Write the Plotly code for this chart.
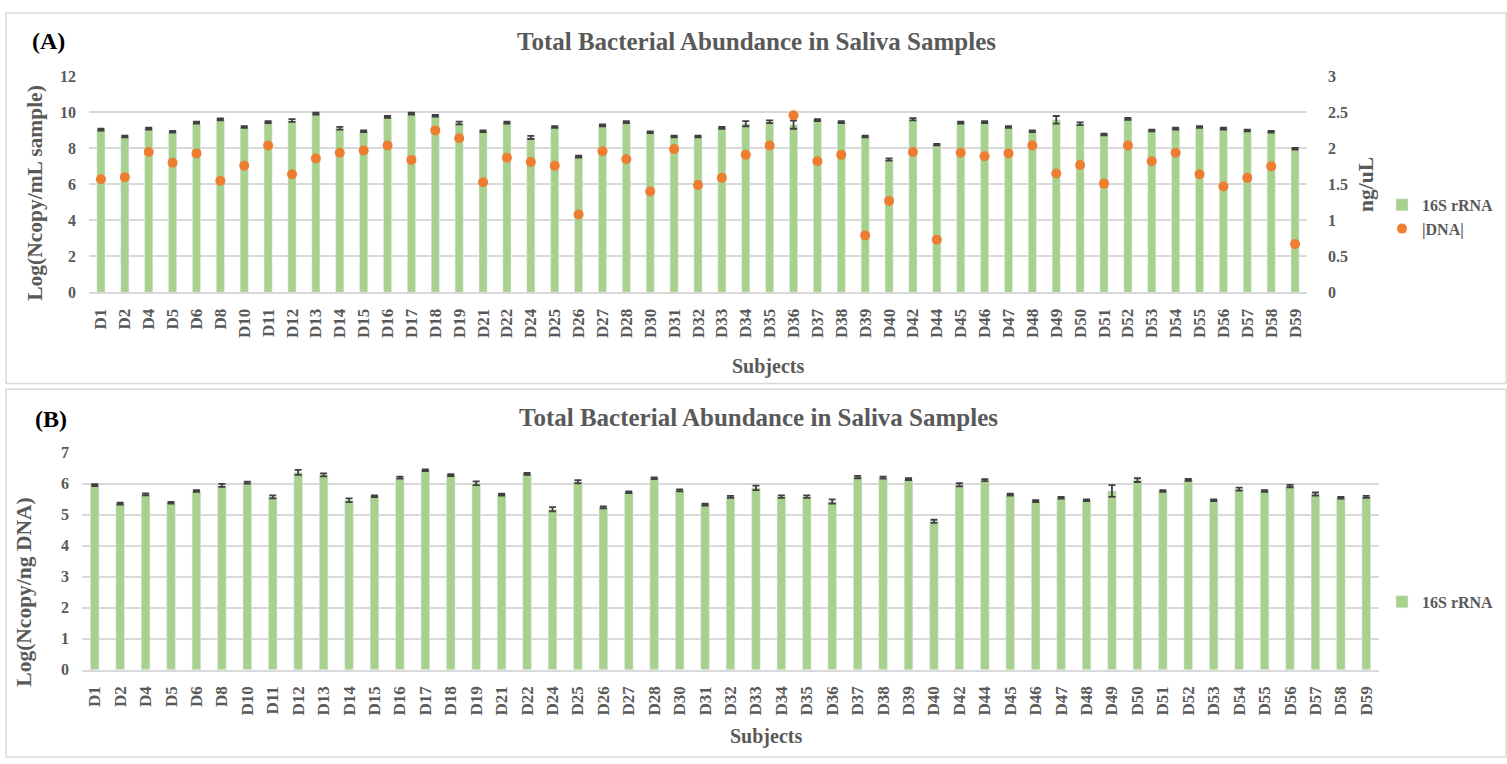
import plotly.graph_objects as go

# Subjects shown in both panels
subjects = ["D1", "D2", "D4", "D5", "D6", "D8", "D10", "D11", "D12", "D13",
            "D14", "D15", "D16", "D17", "D18", "D19", "D21", "D22", "D24", "D25",
            "D26", "D27", "D28", "D30", "D31", "D32", "D33", "D34", "D35", "D36",
            "D37", "D38", "D39", "D40", "D42", "D44", "D45", "D46", "D47", "D48",
            "D49", "D50", "D51", "D52", "D53", "D54", "D55", "D56", "D57", "D58", "D59"]

# (A) 16S rRNA, Log(Ncopy/mL sample), with standard deviation
rrna_per_ml = [9.04, 8.66, 9.10, 8.92, 9.43, 9.61, 9.19, 9.46, 9.55, 9.93,
               9.12, 8.95, 9.75, 9.93, 9.81, 9.41, 8.95, 9.43, 8.61, 9.19,
               7.54, 9.28, 9.46, 8.90, 8.66, 8.66, 9.14, 9.37, 9.48, 9.32,
               9.57, 9.46, 8.66, 7.38, 9.62, 8.21, 9.43, 9.46, 9.19, 8.95,
               9.59, 9.37, 8.77, 9.64, 8.99, 9.10, 9.19, 9.10, 8.99, 8.92, 7.98]
rrna_per_ml_sd = [0.05, 0.05, 0.05, 0.05, 0.05, 0.05, 0.05, 0.05, 0.08, 0.05,
                  0.08, 0.05, 0.05, 0.05, 0.05, 0.08, 0.05, 0.05, 0.09, 0.05,
                  0.05, 0.05, 0.05, 0.05, 0.05, 0.05, 0.05, 0.14, 0.08, 0.23,
                  0.05, 0.05, 0.05, 0.06, 0.06, 0.04, 0.05, 0.05, 0.05, 0.05,
                  0.21, 0.08, 0.05, 0.05, 0.05, 0.05, 0.05, 0.05, 0.05, 0.05, 0.05]

# (A) DNA concentration, ng/uL
dna_conc = [1.57, 1.60, 1.95, 1.80, 1.93, 1.55, 1.76, 2.04, 1.64, 1.86,
            1.94, 1.97, 2.04, 1.84, 2.25, 2.14, 1.53, 1.87, 1.81, 1.76,
            1.08, 1.96, 1.85, 1.40, 1.99, 1.49, 1.59, 1.91, 2.04, 2.46,
            1.82, 1.91, 0.79, 1.27, 1.95, 0.73, 1.94, 1.89, 1.93, 2.04,
            1.65, 1.77, 1.51, 2.04, 1.82, 1.94, 1.64, 1.47, 1.59, 1.75, 0.67]

# (B) 16S rRNA, Log(Ncopy/ng DNA), with standard deviation
rrna_per_ng = [5.96, 5.36, 5.66, 5.39, 5.77, 5.95, 6.04, 5.58, 6.37, 6.29,
               5.47, 5.60, 6.20, 6.44, 6.28, 6.02, 5.65, 6.32, 5.18, 6.07,
               5.24, 5.73, 6.18, 5.79, 5.33, 5.58, 5.87, 5.59, 5.59, 5.43,
               6.22, 6.20, 6.15, 4.79, 5.97, 6.12, 5.65, 5.44, 5.55, 5.47,
               5.77, 6.12, 5.77, 6.13, 5.47, 5.83, 5.77, 5.93, 5.67, 5.55, 5.58]
rrna_per_ng_sd = [0.03, 0.03, 0.03, 0.03, 0.03, 0.05, 0.03, 0.05, 0.08, 0.05,
                  0.06, 0.03, 0.03, 0.03, 0.03, 0.06, 0.03, 0.03, 0.07, 0.05,
                  0.03, 0.03, 0.03, 0.03, 0.03, 0.03, 0.07, 0.04, 0.04, 0.07,
                  0.04, 0.03, 0.03, 0.05, 0.05, 0.03, 0.03, 0.03, 0.03, 0.03,
                  0.19, 0.06, 0.03, 0.03, 0.03, 0.05, 0.03, 0.04, 0.05, 0.03, 0.03]

left_ticks_a = [0, 2, 4, 6, 8, 10, 12]
right_ticks_a = [0, 0.5, 1, 1.5, 2, 2.5, 3]
right_ticklabels_a = ["0", "0.5", "1", "1.5", "2", "2.5", "3"]
ticks_b = [0, 1, 2, 3, 4, 5, 6, 7]

W, H = 1507, 764
SERIF = '"Liberation Serif", "Times New Roman", "DejaVu Serif", serif'
GREY = "#595959"
GRID = "#d9d9d9"
GREEN = "#a9d18e"
ORANGE = "#ed7d31"
ERR = "#404040"


def px(x):
    return x / W


def py(y):
    return 1 - y / H


fig = go.Figure()

fig.add_trace(go.Bar(
    x=subjects, y=rrna_per_ml, name="16S rRNA", marker_color=GREEN,
    width=0.34, xaxis="x", yaxis="y", legend="legend",
    error_y=dict(type="data", array=rrna_per_ml_sd, color=ERR, thickness=1.8, width=3.5),
))
fig.add_trace(go.Scatter(
    x=subjects, y=dna_conc, name="|DNA|", mode="markers",
    marker=dict(color=ORANGE, size=10), xaxis="x", yaxis="y2", legend="legend",
))
fig.add_trace(go.Bar(
    x=subjects, y=rrna_per_ng, name="16S rRNA", marker_color=GREEN,
    width=0.34, xaxis="x2", yaxis="y3", legend="legend2",
    error_y=dict(type="data", array=rrna_per_ng_sd, color=ERR, thickness=1.8, width=3.5),
))

tick_font = dict(family=SERIF, size=16, color=GREY, weight="bold")
xtick_font = dict(family=SERIF, size=17, color=GREY, weight="bold")
legend_font = dict(family=SERIF, size=16, color=GREY, weight="bold")
n = len(subjects)

xcommon = dict(type="category", tickangle=-90, ticks="", showgrid=False,
               showline=True, linecolor=GRID, linewidth=1.5, tickfont=xtick_font,
               ticklabelstandoff=8, fixedrange=True, categoryorder="array",
               categoryarray=subjects, range=[-0.5, n - 0.5], autorange=False)

fig.update_layout(
    width=W, height=H, margin=dict(l=0, r=0, t=0, b=0),
    paper_bgcolor="white", plot_bgcolor="white",
    font=dict(family=SERIF),
    bargap=0.66, showlegend=True,
    xaxis=dict(domain=[px(89), px(1307)], anchor="y", **xcommon),
    yaxis=dict(domain=[py(290.7), py(70)], anchor="x", range=[0, 12],
               tickvals=left_ticks_a, ticks="", showgrid=True, gridcolor=GRID,
               gridwidth=1.5, zeroline=False, tickfont=tick_font, ticklabelstandoff=12),
    yaxis2=dict(overlaying="y", side="right", anchor="x", range=[0, 3],
                tickvals=right_ticks_a, ticktext=right_ticklabels_a, ticks="",
                showgrid=False, zeroline=False, tickfont=tick_font, ticklabelstandoff=20),
    xaxis2=dict(domain=[px(82), px(1379)], anchor="y3", **xcommon),
    yaxis3=dict(domain=[py(676.7), py(455)], anchor="x2", range=[0, 7],
                tickvals=ticks_b, ticks="", showgrid=True, gridcolor=GRID,
                gridwidth=1.5, zeroline=False, tickfont=tick_font, ticklabelstandoff=12),
    legend=dict(x=px(1382), y=py(184), xanchor="left", yanchor="top",
                font=legend_font, bgcolor="rgba(0,0,0,0)", itemwidth=30,
                tracegroupgap=6),
    legend2=dict(x=px(1382), y=py(590), xanchor="left", yanchor="top",
                 font=legend_font, bgcolor="rgba(0,0,0,0)", itemwidth=30),
)

# Panel frames
fig.add_shape(type="rect", xref="paper", yref="paper",
              x0=px(6), x1=px(1506), y0=py(384), y1=py(5),
              line=dict(color=GRID, width=1.5), fillcolor="rgba(0,0,0,0)")
fig.add_shape(type="rect", xref="paper", yref="paper",
              x0=px(6), x1=px(1506), y0=py(766), y1=py(390),
              line=dict(color=GRID, width=1.5), fillcolor="rgba(0,0,0,0)")


def label(text, x, y, size, color=GREY, angle=0):
    fig.add_annotation(text=text, x=px(x), y=py(y), xref="paper", yref="paper",
                       showarrow=False, textangle=angle, xanchor="center", yanchor="middle",
                       font=dict(family=SERIF, size=size, color=color, weight="bold"))


title = "Total Bacterial Abundance in Saliva Samples"
label("(A)", 49, 34, 24, color="black")
label(title, 757, 34, 25)
label("Log(Ncopy/mL sample)", 35, 189, 21.5, angle=-90)
label("ng/uL", 1366, 181, 21.5, angle=-90)
label("Subjects", 768, 367, 20)

label("(B)", 51, 420, 24, color="black")
label(title, 758, 419, 25)
label("Log(Ncopy/ng DNA)", 24, 598, 21.5, angle=-90)
label("Subjects", 766, 745, 20)

fig.write_html("out.html")
